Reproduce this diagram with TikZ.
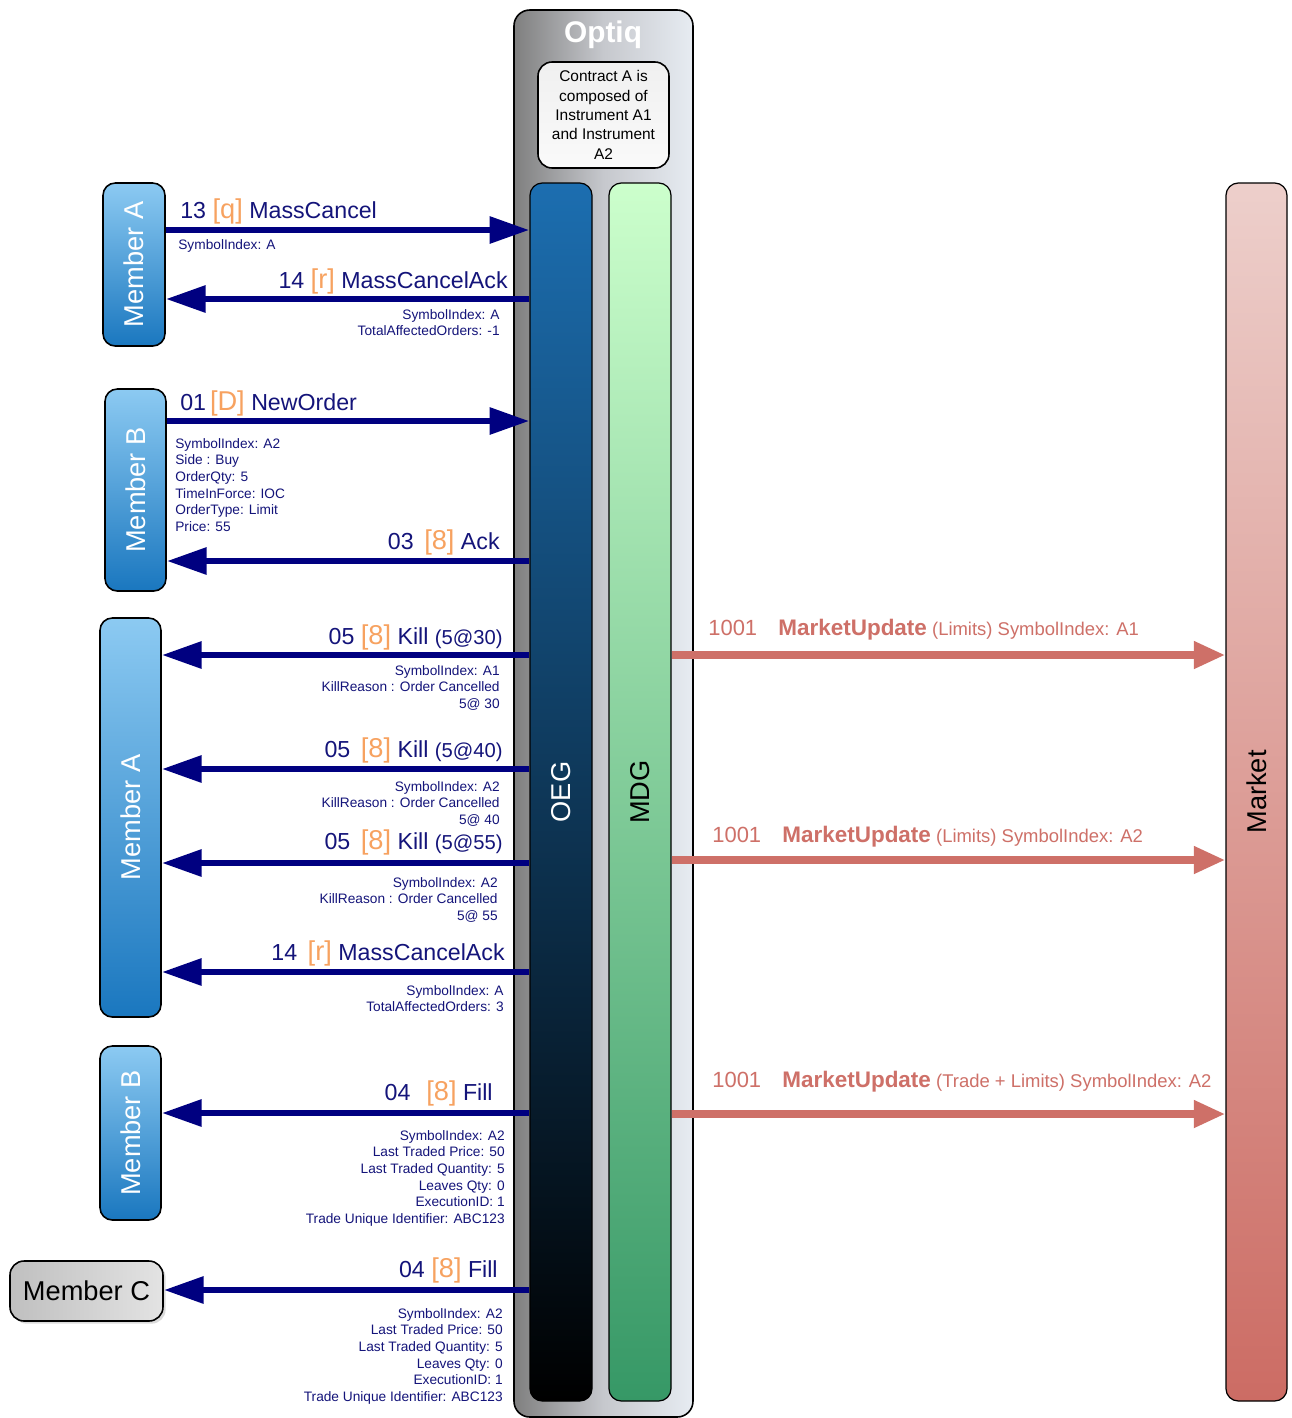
\documentclass[tikz,border=0pt]{standalone}
\usepackage{fontspec}
\setmainfont{Liberation Sans}
\usetikzlibrary{arrows.meta,fit,shadows}
\definecolor{msgnavy}{HTML}{000080}
\definecolor{txtnavy}{HTML}{14147A}
\definecolor{msgorange}{HTML}{F7A260}
\definecolor{mdred}{HTML}{CE7068}
\definecolor{memtop}{HTML}{8CCAF2}
\definecolor{membot}{HTML}{1A77BF}
\definecolor{oegtop}{HTML}{1C6EB0}
\definecolor{oegbot}{HTML}{000000}
\definecolor{mdgtop}{HTML}{CCFFCC}
\definecolor{mdgbot}{HTML}{369866}
\definecolor{mkttop}{HTML}{EDCFCB}
\definecolor{mktbot}{HTML}{CC6C64}
\definecolor{optL}{HTML}{7F7F7F}
\definecolor{optM}{HTML}{C6C8CD}
\definecolor{optR}{HTML}{E7ECF2}
\newcommand{\msgtag}[1]{\textcolor{msgorange}{\fontsize{15.5}{15.5}\selectfont[#1]}}
\newcommand{\updname}[1]{{\fontsize{12.5}{12.5}\selectfont 1001}\hspace{12pt}{\fontsize{12.8}{12.8}\selectfont\bfseries MarketUpdate} #1}

\begin{document}
\begin{tikzpicture}[x=0.02cm, y=-0.02cm,
  lane/.style={draw=black, line width=0.7pt, rounded corners=7pt, inner sep=0pt},
  member/.style={lane, line width=0.9pt, top color=memtop, bottom color=membot},
  barname/.style={rotate=90, font=\fontsize{15.5}{15.5}\selectfont},
  msg/.style={text=txtnavy, font=\fontsize{13.2}{13.2}\selectfont, inner sep=0pt},
  info/.style={text=txtnavy, font=\fontsize{7.8}{9.45}\selectfont, inner sep=0pt},
  req/.style={draw=msgnavy, line width=3.8pt, -{Triangle[length=22.7pt,width=14.7pt]}},
  upd/.style={draw=mdred, line width=4.5pt, -{Triangle[length=18pt,width=14.7pt]}},
  mkt/.style={text=mdred, inner sep=0pt, font=\fontsize{10.5}{10.5}\selectfont}
]
\useasboundingbox[fill=white] (0,0) rectangle (1292,1418);

% Optiq platform
\node[lane, line width=0.9pt, rounded corners=9pt, left color=optL, right color=optR, middle color=optM, fit={(514,10) (693,1417)}] (optiq) {};
\node[font=\bfseries\fontsize{17}{17}\selectfont, text=white] (optiqname) at (603,35) {Optiq};
\node[lane, line width=0.9pt, rounded corners=8pt, top color=gray!12, bottom color=gray!4, fit={(538,62) (669,168)},
  label={[align=center, font=\fontsize{8.8}{11}\selectfont]center:Contract A is\\composed of\\Instrument A1\\and Instrument\\A2}] (contract) {};
\node[lane, top color=oegtop, bottom color=oegbot, fit={(530,183) (592,1401)}, label={[barname, text=white]center:OEG}] (oeg) {};
\node[lane, top color=mdgtop, bottom color=mdgbot, fit={(609,183) (671,1401)}, label={[barname]center:MDG}] (mdg) {};
\node[lane, top color=mkttop, bottom color=mktbot, fit={(1226,183) (1287,1401)}, label={[barname]center:Market}] (market) {};

% members
\node[member, fit={(103,183) (165,346)}, label={[barname, text=white]center:Member A}] (memA1) {};
\node[member, fit={(105,389) (166,591)}, label={[barname, text=white]center:Member B}] (memB1) {};
\node[member, fit={(100,618) (161,1017)}, label={[barname, text=white]center:Member A}] (memA2) {};
\node[member, fit={(100,1046) (161,1220)}, label={[barname, text=white]center:Member B}] (memB2) {};
\node[lane, line width=0.9pt, rounded corners=8pt, left color=gray!50, right color=gray!22,
  drop shadow={shadow xshift=1.5pt, shadow yshift=-1.5pt, fill=gray!55},
  fit={(10,1261) (163,1321)}, label={[font=\fontsize{15.5}{15.5}\selectfont]center:Member C}] (memC) {};

% MassCancel
\draw[req] (memA1.east |- 0,230) -- (oeg.west |- 0,230);
\node[msg, anchor=west] (mcancel) at (180,211) {13 \msgtag{q} MassCancel};
\node[info, anchor=north west] (mcancelinfo) at (178,239) {SymbolIndex: A};
\draw[req] (oeg.west |- 0,299) -- (memA1.east |- 0,299);
\node[msg, anchor=east] (mcackA) at (508,281) {14 \msgtag{r} MassCancelAck};
\node[info, anchor=north east, align=right] (mcackAinfo) at (500,309) {SymbolIndex: A\\TotalAffectedOrders: -1};

% NewOrder
\draw[req] (memB1.east |- 0,421) -- (oeg.west |- 0,421);
\node[msg, anchor=west] (neworder) at (180,403) {01\,\msgtag{D} NewOrder};
\node[info, anchor=north west, align=left] (neworderinfo) at (175,438) {SymbolIndex: A2\\Side : Buy\\OrderQty: 5\\TimeInForce: IOC\\OrderType: Limit\\Price: 55};
\draw[req] (oeg.west |- 0,561) -- (memB1.east |- 0,561);
\node[msg, anchor=east] (ack) at (500,542) {03\hspace{6pt}\msgtag{8} Ack};

% kills
\draw[req] (oeg.west |- 0,655) -- (memA2.east |- 0,655);
\node[msg, anchor=east] (killA) at (503,637) {05 \msgtag{8} Kill {\fontsize{11.5}{11.5}\selectfont(5@30)}};
\node[info, anchor=north east, align=right] (killAinfo) at (500,665) {SymbolIndex: A1\\KillReason : Order Cancelled\\5@ 30};
\draw[req] (oeg.west |- 0,769) -- (memA2.east |- 0,769);
\node[msg, anchor=east] (killB) at (503,750) {05\hspace{6pt}\msgtag{8} Kill {\fontsize{11.5}{11.5}\selectfont(5@40)}};
\node[info, anchor=north east, align=right] (killBinfo) at (500,781) {SymbolIndex: A2\\KillReason : Order Cancelled\\5@ 40};
\draw[req] (oeg.west |- 0,863) -- (memA2.east |- 0,863);
\node[msg, anchor=east] (killC) at (503,842) {05\hspace{6pt}\msgtag{8} Kill {\fontsize{11.5}{11.5}\selectfont(5@55)}};
\node[info, anchor=north east, align=right] (killCinfo) at (498,877) {SymbolIndex: A2\\KillReason : Order Cancelled\\5@ 55};
\draw[req] (oeg.west |- 0,972) -- (memA2.east |- 0,972);
\node[msg, anchor=east] (mcackB) at (505,953) {14\hspace{6pt}\msgtag{r} MassCancelAck};
\node[info, anchor=north east, align=right] (mcackBinfo) at (504,985) {SymbolIndex: A\\TotalAffectedOrders: 3};

% fills
\draw[req] (oeg.west |- 0,1113) -- (memB2.east |- 0,1113);
\node[msg, anchor=east] (fillB) at (493,1093) {04\hspace{9pt}\msgtag{8} Fill};
\node[info, anchor=north east, align=right] (fillBinfo) at (505,1130) {SymbolIndex: A2\\Last Traded Price: 50\\Last Traded Quantity: 5\\Leaves Qty: 0\\ExecutionID: 1\\Trade Unique Identifier: ABC123};
\draw[req] (oeg.west |- 0,1290) -- (memC.east |- 0,1290);
\node[msg, anchor=east] (fillC) at (498,1270) {04 \msgtag{8} Fill};
\node[info, anchor=north east, align=right] (fillCinfo) at (503,1308) {SymbolIndex: A2\\Last Traded Price: 50\\Last Traded Quantity: 5\\Leaves Qty: 0\\ExecutionID: 1\\Trade Unique Identifier: ABC123};

% market data
\draw[upd] (mdg.east |- 0,655) -- (market.west |- 0,655);
\node[mkt, anchor=west] (updA) at (708,630) {\updname{(Limits) SymbolIndex: A1}};
\draw[upd] (mdg.east |- 0,860) -- (market.west |- 0,860);
\node[mkt, anchor=west] (updB) at (712,837) {\updname{(Limits) SymbolIndex: A2}};
\draw[upd] (mdg.east |- 0,1114) -- (market.west |- 0,1114);
\node[mkt, anchor=west] (updC) at (712,1082) {\updname{(Trade + Limits) SymbolIndex: A2}};
\end{tikzpicture}
\end{document}
